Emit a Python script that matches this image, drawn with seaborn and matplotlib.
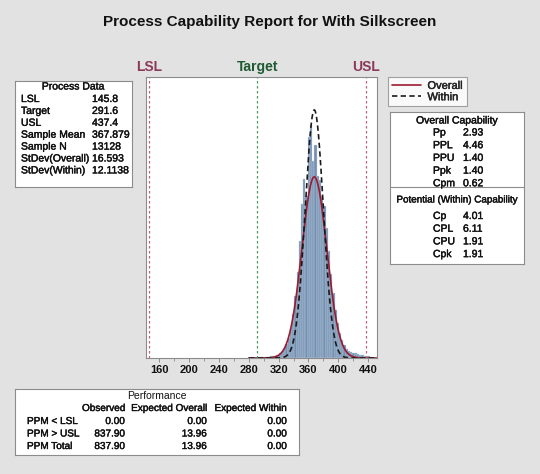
import numpy as np
import pandas as pd
import matplotlib
matplotlib.use('Agg')
import matplotlib.pyplot as plt
import matplotlib.transforms as mtransforms
import matplotlib.patheffects as pe
import seaborn as sns

# ---------------------------------------------------------------
# Process data
# ---------------------------------------------------------------
lsl, target, usl = 145.8, 291.6, 437.4
sample_mean = 367.879
sample_n = 13128
sd_overall = 16.593
sd_within = 12.1138

# histogram (density per bin, bins of width 3 starting at 296)
bin_start, bin_width = 296, 3
bin_density = [
    0.0001, 0.0001, 0.0001, 0.0001, 0.0002, 0.0002, 0.0003, 0.0004,
    0.0006, 0.0008, 0.0012, 0.0018, 0.0027, 0.0040, 0.0058, 0.0082,
    0.0114, 0.0155, 0.0205, 0.0238, 0.0215, 0.0294, 0.0309, 0.0262,
    0.0283, 0.0241, 0.0236, 0.0215, 0.0202, 0.0172, 0.0142, 0.0112,
    0.0086, 0.0064, 0.0046, 0.0033, 0.0024, 0.0017, 0.0012, 0.0009,
    0.0008, 0.0007, 0.0006, 0.0005, 0.0004, 0.0004, 0.0003, 0.0002,
    0.0002, 0.0001,
]

overall_names = ['Pp', 'PPL', 'PPU', 'Ppk', 'Cpm']
overall_vals = [2.93, 4.46, 1.40, 1.40, 0.62]
within_names = ['Cp', 'CPL', 'CPU', 'Cpk']
within_vals = [4.01, 6.11, 1.91, 1.91]

perf_rows = ['PPM < LSL', 'PPM > USL', 'PPM Total']
perf_observed = [0.00, 837.90, 837.90]
perf_exp_overall = [0.00, 13.96, 13.96]
perf_exp_within = [0.00, 0.00, 0.00]

x_ticks = [160, 200, 240, 280, 320, 360, 400, 440]

# ---------------------------------------------------------------
# Style
# ---------------------------------------------------------------
sns.set_theme(style='white')
plt.rcParams['font.family'] = ['Liberation Sans Narrow', 'Liberation Sans', 'DejaVu Sans']

W, H = 540, 474
BG = '#E2E2E2'
EDGE = '#8C8C8C'
TXT = '#111111'
SEMI = [pe.withStroke(linewidth=0.3, foreground=TXT)]


def fx(x):
    return x / W


def fy(y):
    return 1 - y / H


def box(x0, y0, x1, y1):
    b = fig.add_axes([fx(x0), fy(y1), fx(x1) - fx(x0), fy(y0) - fy(y1)])
    b.set_xlim(x0, x1)
    b.set_ylim(y1, y0)
    b.set_xticks([])
    b.set_yticks([])
    b.set_facecolor('white')
    for s in b.spines.values():
        s.set_color(EDGE)
        s.set_linewidth(0.8)
        s.set_visible(True)
    return b


def put(b, x, y, s, ha='left', size=7.5):
    b.text(x, y, s, ha=ha, va='center', fontsize=size, color=TXT, path_effects=SEMI)


fig = plt.figure(figsize=(W / 100, H / 100), dpi=100)
fig.patch.set_facecolor(BG)

# ---------------------------------------------------------------
# Histogram + fitted curves
# ---------------------------------------------------------------
ax = fig.add_axes([fx(146), fy(358), fx(377) - fx(146), fy(77) - fy(358)])
ax.set_facecolor('white')

n_bins = len(bin_density)
edges = [bin_start + bin_width * i for i in range(n_bins + 1)]
centers = [e + bin_width / 2 for e in edges[:-1]]
hist_df = pd.DataFrame({'value': centers, 'density': bin_density})
sns.histplot(data=hist_df, x='value', weights='density', bins=edges,
             stat='count', color='#7290B2', edgecolor='#CBD6E3',
             linewidth=0.3, alpha=1.0, ax=ax)

xs = np.linspace(280, 452, 500)
pdf_overall = np.exp(-0.5 * ((xs - sample_mean) / sd_overall) ** 2) / (sd_overall * np.sqrt(2 * np.pi))
pdf_within = np.exp(-0.5 * ((xs - sample_mean) / sd_within) ** 2) / (sd_within * np.sqrt(2 * np.pi))
l_over = ax.plot(xs, pdf_overall, color='#9B1B30', lw=1.2, label='Overall')[0]
l_with = ax.plot(xs, pdf_within, color='#1A1A1A', lw=1.2,
                 ls=(0, (3.2, 2)), label='Within')[0]

ax.axvline(lsl, color='#C0607A', lw=0.9, ls=(0, (2, 2)))
ax.axvline(usl, color='#C0607A', lw=0.9, ls=(0, (2, 2)))
ax.axvline(target, color='#4C9A5C', lw=0.9, ls=(0, (2, 2)))

ax.set_xlim(142, 452)
ax.set_ylim(0, 0.0373)
ax.set_xticks(x_ticks)
ax.set_xticks(np.arange(180, 441, 40), minor=True)
ax.set_yticks([])
ax.set_xlabel('')
ax.set_ylabel('')
ax.tick_params(axis='x', which='major', length=3, width=0.7, color=EDGE,
               labelsize=8, labelcolor=TXT, pad=2, bottom=True)
ax.tick_params(axis='x', which='minor', length=2, width=0.6, color=EDGE, bottom=True)
for lab in ax.get_xticklabels():
    lab.set_fontweight('bold')
for s in ax.spines.values():
    s.set_color(EDGE)
    s.set_linewidth(0.8)

blend = mtransforms.blended_transform_factory(ax.transData, ax.transAxes)
spec_labels = [('LSL', lsl, '#8B3A5A'), ('Target', target, '#1E5A32'), ('USL', usl, '#8B3A5A')]
for name, xv, col in spec_labels:
    ax.text(xv, 1.012, name, transform=blend, ha='center', va='bottom',
            fontsize=10, fontweight='bold', color=col)

fig.text(fx(270), fy(22), 'Process Capability Report for With Silkscreen',
         ha='center', va='center', fontsize=11, fontweight='bold', color=TXT)

# legend
leg = ax.legend(handles=[l_over, l_with], loc='upper left',
                bbox_to_anchor=(fx(388), fy(77)), bbox_transform=fig.transFigure,
                fontsize=8, frameon=True, fancybox=False, handlelength=2.6,
                borderpad=0.35, labelspacing=0.12, handletextpad=0.6, borderaxespad=0)
leg.get_frame().set_edgecolor(EDGE)
leg.get_frame().set_linewidth(0.8)
for t in leg.get_texts():
    t.set_path_effects(SEMI)

# ---------------------------------------------------------------
# Process data box
# ---------------------------------------------------------------
pd_box = box(15, 81, 132, 187)
put(pd_box, 73, 86.5, 'Process Data', ha='center')
pd_labels = ['LSL', 'Target', 'USL', 'Sample Mean', 'Sample N', 'StDev(Overall)', 'StDev(Within)']
pd_values = [f'{lsl:g}', f'{target:g}', f'{usl:g}', f'{sample_mean:g}', f'{sample_n}',
             f'{sd_overall:g}', f'{sd_within:g}']
for i, (lab, val) in enumerate(zip(pd_labels, pd_values)):
    yy = 99 + 11.9 * i
    put(pd_box, 21, yy, lab)
    put(pd_box, 92, yy, val)

# ---------------------------------------------------------------
# Capability box
# ---------------------------------------------------------------
cap = box(390, 112, 524, 264)
cap.axhline(187, color=EDGE, lw=0.8)
put(cap, 457, 120.5, 'Overall Capability', ha='center')
for i, (n, v) in enumerate(zip(overall_names, overall_vals)):
    yy = 132.5 + 12.7 * i
    put(cap, 433, yy, n)
    put(cap, 463, yy, f'{v:.2f}')
put(cap, 457, 199.5, 'Potential (Within) Capability', ha='center', size=7.1)
for i, (n, v) in enumerate(zip(within_names, within_vals)):
    yy = 216 + 12.7 * i
    put(cap, 433, yy, n)
    put(cap, 463, yy, f'{v:.2f}')

# ---------------------------------------------------------------
# Performance box
# ---------------------------------------------------------------
perf = box(15, 389, 299, 455)
perf.text(157, 396, 'Performance', ha='center', va='center', fontsize=7.5, color=TXT)
col_x = [125, 207, 287]
col_names = ['Observed', 'Expected Overall', 'Expected Within']
for cx, cn in zip(col_x, col_names):
    put(perf, cx, 408, cn, ha='right', size=7.2)
for i, rn in enumerate(perf_rows):
    yy = 421 + 12.5 * i
    put(perf, 27, yy, rn, size=7.2)
    for cx, col in zip(col_x, [perf_observed, perf_exp_overall, perf_exp_within]):
        put(perf, cx, yy, f'{col[i]:.2f}', ha='right', size=7.2)

fig.savefig('out.png', dpi=100, facecolor=fig.get_facecolor())
